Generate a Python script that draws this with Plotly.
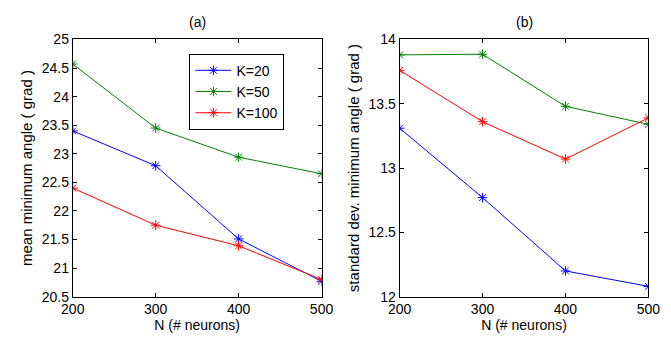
import plotly.graph_objects as go

N = [200, 300, 400, 500]
labels = ["K=20", "K=50", "K=100"]
colors = ["#0000ff", "#008000", "#ff0000"]
mean_vals = {
    "K=20": [23.40, 22.79, 21.51, 20.77],
    "K=50": [24.57, 23.45, 22.94, 22.65],
    "K=100": [22.40, 21.75, 21.39, 20.80],
}
std_vals = {
    "K=20": [13.31, 12.77, 12.20, 12.08],
    "K=50": [13.88, 13.885, 13.48, 13.34],
    "K=100": [13.76, 13.36, 13.07, 13.39],
}

fig = go.Figure()
for lab, c in zip(labels, colors):
    fig.add_trace(go.Scatter(x=N, y=mean_vals[lab], name=lab, mode="lines+markers",
                             line=dict(color=c, width=1),
                             marker=dict(symbol="asterisk-open", size=8, line=dict(color=c, width=1)),
                             xaxis="x", yaxis="y"))
for lab, c in zip(labels, colors):
    fig.add_trace(go.Scatter(x=N, y=std_vals[lab], name=lab, mode="lines+markers",
                             line=dict(color=c, width=1),
                             marker=dict(symbol="asterisk-open", size=8, line=dict(color=c, width=1)),
                             xaxis="x2", yaxis="y2", showlegend=False))

font = dict(family="Liberation Sans, Arial, sans-serif", size=14, color="black")
tfont = dict(family="Liberation Sans, Arial, sans-serif", size=15, color="black")
axcommon = dict(showgrid=False, zeroline=False, showline=True, linecolor="black", linewidth=1,
                mirror="ticks", ticks="inside", ticklen=4, tickcolor="black",
                tickfont=font)

fig.update_layout(
    width=671, height=338,
    margin=dict(l=0, r=0, t=0, b=0),
    paper_bgcolor="white", plot_bgcolor="white",
    font=font,
    xaxis=dict(domain=[63/671, 321/671], range=[200, 500], tickvals=N,
               title=dict(text="N (# neurons)", font=font, standoff=0), anchor="y", **axcommon),
    yaxis=dict(domain=[1-303/338, 1-33/338], range=[20.5, 25], dtick=0.5,
               title=dict(text="mean minimum angle ( grad )", font=tfont, standoff=5), anchor="x", **axcommon),
    xaxis2=dict(domain=[402/671, 660/671], range=[200, 500], tickvals=N,
                title=dict(text="N (# neurons)", font=font, standoff=0), anchor="y2", **axcommon),
    yaxis2=dict(domain=[1-303/338, 1-33/338], range=[12, 14], dtick=0.5,
                title=dict(text="standard dev. minimum angle ( grad )", font=tfont, standoff=5), anchor="x2", **axcommon),
    legend=dict(x=184/671, y=1-48/338, xanchor="left", yanchor="top",
                bordercolor="black", borderwidth=1, bgcolor="white",
                font=font, itemwidth=36),
    annotations=[
        dict(text="(a)", x=(63+321)/2/671, y=1-15/338, xref="paper", yref="paper",
             showarrow=False, font=font, xanchor="center", yanchor="middle"),
        dict(text="(b)", x=(402+660)/2/671, y=1-15/338, xref="paper", yref="paper",
             showarrow=False, font=font, xanchor="center", yanchor="middle"),
    ],
)

fig.write_html("out.html")
